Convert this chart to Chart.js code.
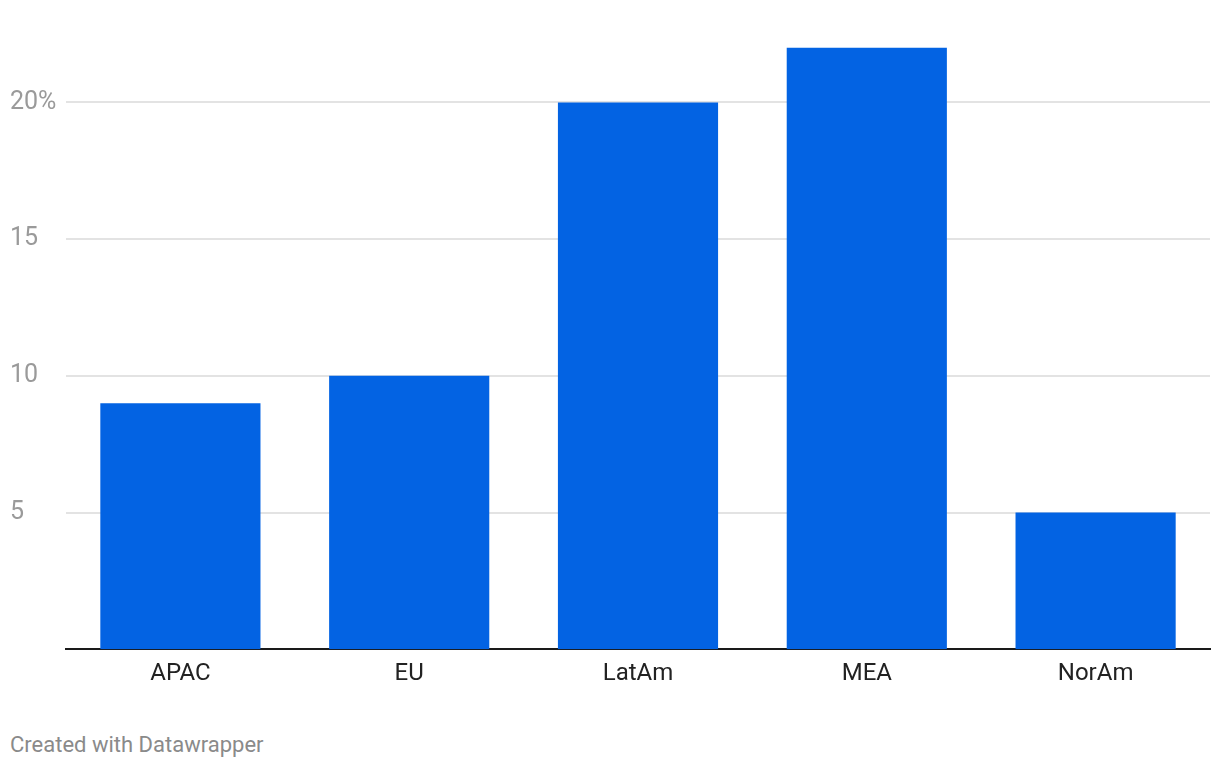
<!DOCTYPE html>
<html>
<head>
<meta charset="utf-8">
<script src="https://cdn.jsdelivr.net/npm/chart.js@4"></script>
<style>
  html, body { margin: 0; padding: 0; background: #fff; }
  #wrap { position: relative; width: 1220px; height: 690px; }
  #note { position: absolute; left: 10px; top: 732px; font: 22px Roboto, sans-serif; color: #8a8a8a; }
</style>
</head>
<body>
<div id="wrap"><canvas id="chart"></canvas></div>
<div id="note">Created with Datawrapper</div>
<script>
const regions = ['APAC', 'EU', 'LatAm', 'MEA', 'NorAm'];
const shares = [9, 10, 20, 22, 5];
const yTicks = [5, 10, 15, 20];

const ctx = document.getElementById('chart').getContext('2d');
new Chart(ctx, {
    type: 'bar',
    data: {
        labels: regions,
        datasets: [{
            data: shares,
            backgroundColor: '#0363e3',
            barPercentage: 0.7,
            categoryPercentage: 1
        }]
    },
    options: {
        responsive: true,
        maintainAspectRatio: false,
        animation: false,
        layout: { padding: { left: 10, right: 10, top: 0, bottom: 0 } },
        plugins: { legend: { display: false }, tooltip: { enabled: false } },
        scales: {
            x: {
                grid: { display: false },
                border: { color: '#1a1a1a', width: 2 },
                ticks: { color: '#222', font: { family: 'Roboto', size: 24 }, padding: 2 }
            },
            y: {
                min: 0,
                max: 23.2,
                afterFit: axis => { axis.width = 56; },
                afterBuildTicks: axis => { axis.ticks = yTicks.map(v => ({ value: v })); },
                border: { display: false },
                grid: { color: '#e3e3e3', lineWidth: 2, drawTicks: false },
                ticks: {
                    color: '#9a9a9a',
                    font: { family: 'Roboto', size: 25 },
                    crossAlign: 'far',
                    padding: 0,
                    callback: v => v === 20 ? v + '%' : v
                }
            }
        }
    }
});
</script>
</body>
</html>
